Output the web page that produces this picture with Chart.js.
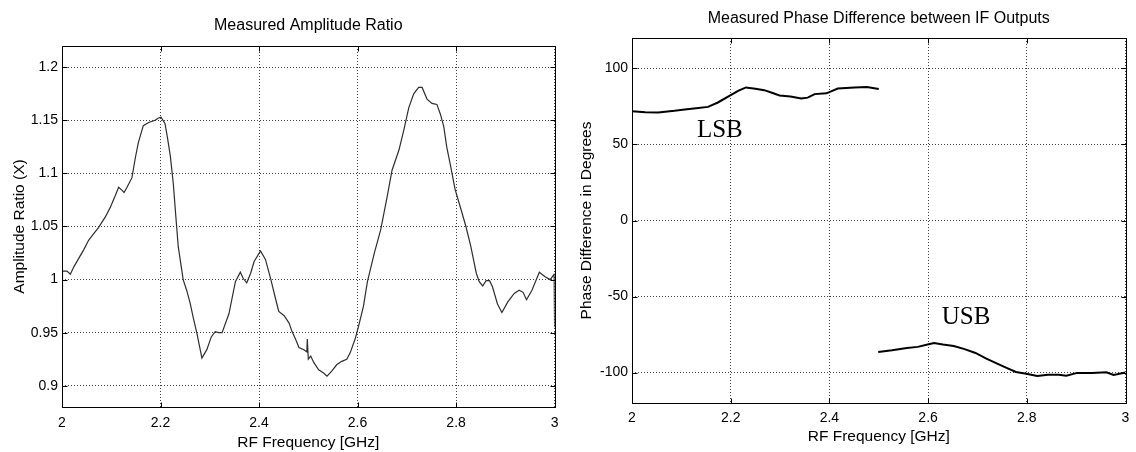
<!DOCTYPE html>
<html>
<head>
<meta charset="utf-8">
<script src="https://cdn.jsdelivr.net/npm/chart.js@4"></script>
<style>
  body { margin: 0; background: #fff; }
  #wrap { position: relative; width: 1136px; height: 452px; }
  .box { position: absolute; top: 0; height: 452px; }
</style>
</head>
<body>
<div id="wrap">
  <div class="box" style="left:0;width:566px"><canvas id="ampChart" width="566" height="452"></canvas></div>
  <div class="box" style="left:566px;width:570px"><canvas id="phaseChart" width="570" height="452"></canvas></div>
</div>
<script>
// Left: measured amplitude ratio
const ampFreq = [2.000, 2.001, 2.010, 2.017, 2.024, 2.034, 2.044, 2.054, 2.064, 2.074, 2.088, 2.098, 2.108, 2.115, 2.122, 2.126, 2.132, 2.142, 2.149, 2.155,
  2.165, 2.176, 2.189, 2.195, 2.201, 2.209, 2.214, 2.220, 2.226, 2.231, 2.236, 2.246, 2.253, 2.260, 2.267, 2.274, 2.284, 2.294, 2.303, 2.311,
  2.318, 2.325, 2.339, 2.352, 2.362, 2.368, 2.375, 2.383, 2.390, 2.403, 2.413, 2.424, 2.434, 2.440, 2.451, 2.461, 2.467, 2.474, 2.481, 2.491,
  2.497, 2.498, 2.500, 2.505, 2.511, 2.521, 2.531, 2.538, 2.548, 2.558, 2.568, 2.578, 2.585, 2.595, 2.602, 2.612, 2.620, 2.634, 2.647, 2.660,
  2.670, 2.684, 2.694, 2.704, 2.714, 2.724, 2.731, 2.741, 2.751, 2.761, 2.768, 2.775, 2.781, 2.788, 2.798, 2.810, 2.820, 2.830, 2.841, 2.847,
  2.854, 2.861, 2.868, 2.874, 2.884, 2.893, 2.905, 2.918, 2.928, 2.936, 2.943, 2.954, 2.969, 2.980, 2.991, 2.999, 3.000];
const ampRatio = [0.945, 1.008, 1.008, 1.005, 1.012, 1.020, 1.028, 1.037, 1.043, 1.049, 1.059, 1.068, 1.079, 1.087, 1.084, 1.082, 1.087, 1.096, 1.115, 1.129,
  1.145, 1.148, 1.150, 1.152, 1.153, 1.147, 1.134, 1.116, 1.090, 1.060, 1.031, 1.000, 0.990, 0.978, 0.963, 0.949, 0.926, 0.934, 0.946, 0.951,
  0.950, 0.950, 0.968, 0.998, 1.007, 1.001, 0.997, 1.006, 1.017, 1.027, 1.019, 1.000, 0.981, 0.970, 0.966, 0.959, 0.951, 0.944, 0.936, 0.934,
  0.932, 0.944, 0.925, 0.928, 0.922, 0.915, 0.912, 0.909, 0.914, 0.920, 0.923, 0.925, 0.931, 0.944, 0.956, 0.975, 0.998, 1.025, 1.047, 1.078,
  1.103, 1.122, 1.141, 1.162, 1.175, 1.181, 1.181, 1.170, 1.166, 1.165, 1.156, 1.144, 1.125, 1.109, 1.085, 1.066, 1.050, 1.031, 1.006, 0.998,
  0.994, 0.999, 0.999, 0.993, 0.977, 0.969, 0.979, 0.987, 0.990, 0.988, 0.981, 0.990, 1.007, 1.003, 1.000, 1.005, 0.955];

// Right: measured phase difference, two sidebands
const lsbFreq = [2.000, 2.027, 2.053, 2.086, 2.107, 2.130, 2.154, 2.174, 2.200, 2.215, 2.231, 2.250, 2.268, 2.285, 2.299, 2.321, 2.343, 2.356, 2.370, 2.394,
  2.417, 2.451, 2.476, 2.500];
const lsbPhase = [71.9, 71.1, 71.0, 72.1, 73.0, 73.8, 74.7, 77.6, 82.4, 85.2, 87.5, 86.6, 85.7, 83.8, 82.2, 81.6, 80.2, 80.8, 83.1, 83.6,
  86.8, 87.5, 87.7, 86.4];
const usbFreq = [2.499, 2.527, 2.557, 2.579, 2.601, 2.612, 2.630, 2.652, 2.674, 2.696, 2.718, 2.740, 2.759, 2.778, 2.799, 2.821, 2.843, 2.865, 2.880, 2.902,
  2.932, 2.961, 2.976, 3.000];
const usbPhase = [-86.4, -85.3, -83.8, -83.1, -81.4, -80.5, -81.6, -82.5, -84.6, -87.1, -90.8, -94.1, -96.9, -99.6, -100.7, -102.2, -101.5, -101.5, -102.0, -100.2,
  -100.2, -99.8, -101.5, -100.0];

const freqTicks = [2, 2.2, 2.4, 2.6, 2.8, 3];
const ampTicks = [0.9, 0.95, 1, 1.05, 1.1, 1.15, 1.2];
const phaseTicks = [-100, -50, 0, 50, 100];

const sideLabels = [
  { text: 'LSB', x: 2.178, y: 59.4 },
  { text: 'USB', x: 2.677, y: -63.9 }
];

Chart.defaults.font.family = "'Liberation Sans', Arial, Helvetica, sans-serif";
Chart.defaults.color = '#000';

function toPoints(xs, ys) {
  return xs.map((x, i) => ({ x: x, y: ys[i] }));
}

// matlab-like closed box with small inward ticks
const boxPlugin = {
  id: 'axisBox',
  afterDraw(chart) {
    const { ctx, chartArea: a, scales } = chart;
    const l = Math.round(a.left) + 0.5, r = Math.round(a.right) + 0.5;
    const t = Math.round(a.top) + 0.5, b = Math.round(a.bottom) + 0.5;
    ctx.save();
    ctx.strokeStyle = '#000';
    ctx.lineWidth = 1;
    ctx.strokeRect(l, t, r - l, b - t);
    ctx.beginPath();
    scales.x.ticks.forEach(tk => {
      const px = Math.round(scales.x.getPixelForValue(tk.value)) + 0.5;
      ctx.moveTo(px, b); ctx.lineTo(px, b - 5);
      ctx.moveTo(px, t); ctx.lineTo(px, t + 5);
    });
    scales.y.ticks.forEach(tk => {
      const py = Math.round(scales.y.getPixelForValue(tk.value)) + 0.5;
      ctx.moveTo(l, py); ctx.lineTo(l + 5, py);
      ctx.moveTo(r, py); ctx.lineTo(r - 5, py);
    });
    ctx.stroke();
    ctx.restore();
  }
};

const labelPlugin = {
  id: 'sideLabels',
  afterDatasetsDraw(chart, args, opts) {
    if (!opts.items) return;
    const { ctx, scales } = chart;
    ctx.save();
    ctx.font = "25px 'Liberation Serif', 'Times New Roman', serif";
    ctx.fillStyle = '#000';
    ctx.textAlign = 'center';
    ctx.textBaseline = 'middle';
    opts.items.forEach(it => {
      ctx.fillText(it.text, scales.x.getPixelForValue(it.x), scales.y.getPixelForValue(it.y));
    });
    ctx.restore();
  }
};

function makeOptions(cfg) {
  return {
    responsive: false,
    animation: false,
    layout: { padding: { left: 0, right: cfg.padRight, top: 0, bottom: 0 } },
    elements: { point: { radius: 0 }, line: { tension: 0 } },
    plugins: {
      legend: { display: false },
      tooltip: { enabled: false },
      title: {
        display: true,
        fullSize: false,
        text: cfg.title,
        font: { size: 16, weight: 'normal' },
        padding: { top: cfg.titleTop, bottom: cfg.titleBottom }
      },
      sideLabels: { items: cfg.labels }
    },
    scales: {
      x: {
        type: 'linear',
        min: 2, max: 3,
        afterBuildTicks: s => { s.ticks = freqTicks.map(v => ({ value: v })); },
        afterFit: s => { s.height = cfg.xHeight; },
        ticks: { padding: cfg.xTickPad, font: { size: 14 }, callback: v => String(+v.toFixed(1)) },
        grid: { color: 'rgba(0,0,0,0.75)', lineWidth: 1, drawTicks: false },
        border: { display: false, dash: [1, 2] },
        title: { display: true, text: 'RF Frequency [GHz]', font: { size: 15.5 }, padding: { top: 0, bottom: cfg.xTitlePad } }
      },
      y: {
        min: cfg.yMin, max: cfg.yMax,
        afterBuildTicks: s => { s.ticks = cfg.yTicks.map(v => ({ value: v })); },
        afterFit: s => { s.width = cfg.yWidth; },
        ticks: { padding: 4, font: { size: 14 }, callback: v => String(+v.toFixed(2)) },
        grid: { color: 'rgba(0,0,0,0.75)', lineWidth: 1, drawTicks: false },
        border: { display: false, dash: [1, 2] },
        title: { display: true, text: cfg.yTitle, font: { size: 15.5 }, padding: { top: cfg.yTitlePad, bottom: 0 } }
      }
    }
  };
}

const ctx1 = document.getElementById('ampChart').getContext('2d');
new Chart(ctx1, {
  type: 'line',
  data: {
    datasets: [{
      label: 'Amplitude Ratio',
      data: toPoints(ampFreq, ampRatio),
      borderColor: '#2e2e2e',
      borderWidth: 1.2,
      fill: false
    }]
  },
  options: makeOptions({
    title: 'Measured Amplitude Ratio', titleTop: 16, titleBottom: 10.8,
    padRight: 10.5, xHeight: 45, xTickPad: 7.5, xTitlePad: 0,
    yMin: 0.88, yMax: 1.22, yTicks: ampTicks, yWidth: 62,
    yTitle: 'Amplitude Ratio (X)', yTitlePad: 10, labels: null
  }),
  plugins: [boxPlugin, labelPlugin]
});

const ctx2 = document.getElementById('phaseChart').getContext('2d');
new Chart(ctx2, {
  type: 'line',
  data: {
    datasets: [{
      label: 'LSB',
      data: toPoints(lsbFreq, lsbPhase),
      borderColor: '#000',
      borderWidth: 2,
      fill: false
    }, {
      label: 'USB',
      data: toPoints(usbFreq, usbPhase),
      borderColor: '#000',
      borderWidth: 2,
      fill: false
    }]
  },
  options: makeOptions({
    title: 'Measured Phase Difference between IF Outputs', titleTop: 9, titleBottom: 9.8,
    padRight: 9, xHeight: 49, xTickPad: 6.6, xTitlePad: 6,
    yMin: -120, yMax: 120, yTicks: phaseTicks, yWidth: 66,
    yTitle: 'Phase Difference in Degrees', yTitlePad: 11, labels: sideLabels
  }),
  plugins: [boxPlugin, labelPlugin]
});
</script>
</body>
</html>
